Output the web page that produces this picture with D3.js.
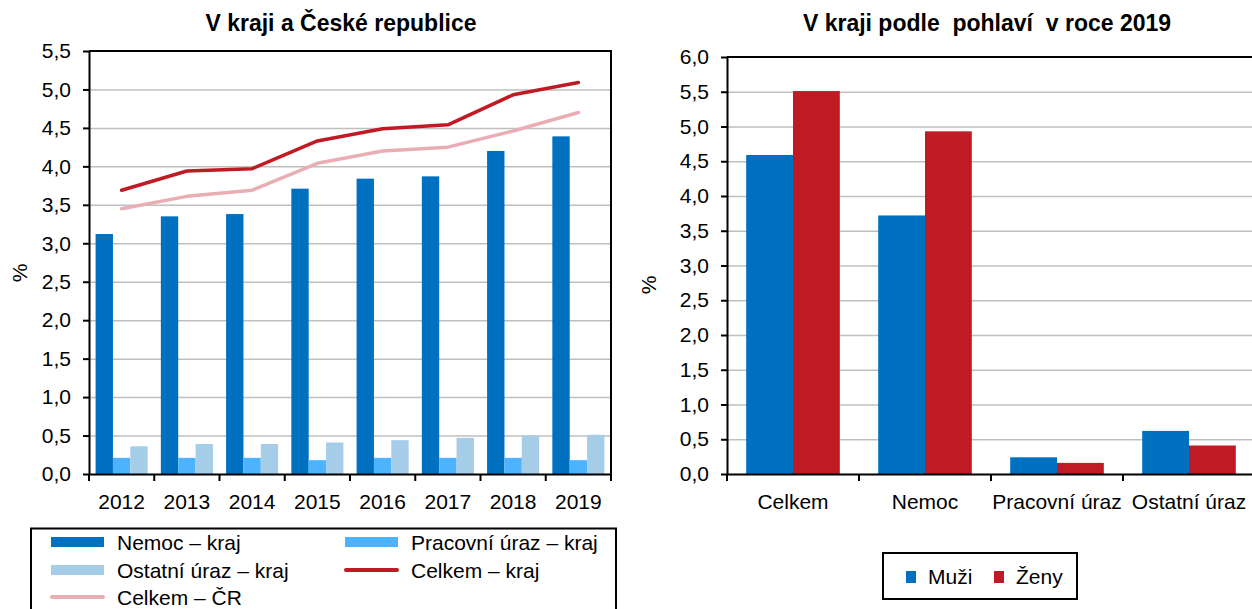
<!DOCTYPE html>
<html>
<head>
<meta charset="utf-8">
<title>Pracovní neschopnost</title>
<style>
  body { margin: 0; background: #fff; }
  svg { display: block; font-family: "Liberation Sans", Arial, sans-serif; }
  .grid line { stroke: #bfbfbf; stroke-width: 1.5; }
  .grid .domain { display: none; }
</style>
</head>
<body>
<div id="chart"></div>
<script src="https://d3js.org/d3.v7.min.js"></script>
<script>
// left chart data
const years = ['2012', '2013', '2014', '2015', '2016', '2017', '2018', '2019'];
const nemoc = [3.12, 3.35, 3.38, 3.71, 3.84, 3.87, 4.20, 4.39];
const pracovni = [0.21, 0.21, 0.21, 0.18, 0.21, 0.21, 0.21, 0.18];
const ostatni = [0.36, 0.39, 0.39, 0.41, 0.44, 0.47, 0.50, 0.51];
const celkemKraj = [3.69, 3.94, 3.97, 4.33, 4.49, 4.54, 4.93, 5.09];
const celkemCR = [3.45, 3.61, 3.69, 4.04, 4.20, 4.25, 4.46, 4.70];
const leftTicks = [0, 0.5, 1, 1.5, 2, 2.5, 3, 3.5, 4, 4.5, 5, 5.5];

// right chart data
const categories = ['Celkem', 'Nemoc', 'Pracovní úraz', 'Ostatní úraz'];
const muzi = [4.59, 3.72, 0.24, 0.62];
const zeny = [5.51, 4.93, 0.16, 0.41];
const rightTicks = [0, 0.5, 1, 1.5, 2, 2.5, 3, 3.5, 4, 4.5, 5, 5.5, 6];

const cz = d3.formatLocale({decimal: ',', thousands: ' ', grouping: [3], currency: ['', ' Kč']});
const fmt = cz.format('.1f');

const W = 1252, H = 609;
const svg = d3.select('#chart').append('svg')
  .attr('width', W).attr('height', H);

const blue = '#0070c0', lightBlue = '#4db3ff', paleBlue = '#a6cde8';
const red = '#c01a24', pink = '#e8aeb3';

// ---------- left chart ----------
const L = {left: 89, right: 611, top: 51, bottom: 474};

const x0 = d3.scaleBand().domain(years).range([L.left, L.right]);
const x1 = d3.scaleBand().domain(['nemoc', 'pracovni', 'ostatni'])
  .range([0, x0.bandwidth()]).paddingOuter(0.38);
const yL = d3.scaleLinear().domain([0, 5.5]).range([L.bottom, L.top]);

svg.append('g').attr('class', 'grid')
  .attr('transform', `translate(${L.left},0)`)
  .call(d3.axisLeft(yL).tickValues(leftTicks.slice(1, -1)).tickSize(-(L.right - L.left)).tickFormat(''));

const barSeries = [
  {key: 'nemoc', values: nemoc, color: blue},
  {key: 'pracovni', values: pracovni, color: lightBlue},
  {key: 'ostatni', values: ostatni, color: paleBlue}
];
barSeries.forEach(s => {
  svg.append('g').attr('fill', s.color)
    .selectAll('rect')
    .data(years)
    .join('rect')
      .attr('x', (d, i) => x0(d) + x1(s.key))
      .attr('y', (d, i) => yL(s.values[i]))
      .attr('width', x1.bandwidth())
      .attr('height', (d, i) => yL(0) - yL(s.values[i]));
});

const line = d3.line()
  .x((d, i) => x0(years[i]) + x0.bandwidth() / 2)
  .y(d => yL(d));

svg.append('path').datum(celkemCR)
  .attr('fill', 'none').attr('stroke', pink).attr('stroke-width', 3.5)
  .attr('stroke-linejoin', 'round').attr('stroke-linecap', 'round')
  .attr('d', line);
svg.append('path').datum(celkemKraj)
  .attr('fill', 'none').attr('stroke', red).attr('stroke-width', 3.5)
  .attr('stroke-linejoin', 'round').attr('stroke-linecap', 'round')
  .attr('d', line);

// border of plot area
svg.append('path')
  .attr('d', `M${L.left},${L.top}H${L.right}V${L.bottom}`)
  .attr('fill', 'none').attr('stroke', '#000').attr('stroke-width', 2);

function styleAxis(g) {
  g.select('.domain').attr('stroke', '#000').attr('stroke-width', 2);
  g.selectAll('.tick line').attr('stroke', '#000').attr('stroke-width', 2);
  g.selectAll('.tick text').attr('fill', '#000').attr('font-size', 21)
    .attr('font-family', '"Liberation Sans", Arial, sans-serif');
}

svg.append('g')
  .attr('transform', `translate(${L.left},0)`)
  .call(d3.axisLeft(yL).tickValues(leftTicks).tickFormat(fmt).tickSize(6).tickPadding(12).tickSizeOuter(0))
  .call(styleAxis);

svg.append('g')
  .attr('transform', `translate(0,${L.bottom})`)
  .call(d3.axisBottom(x0).tickSize(0).tickPadding(20).tickSizeOuter(0))
  .call(styleAxis);

// tick marks between categories
svg.append('g').selectAll('line')
  .data(years.map(d => x0(d)).concat([x0.range()[1]]))
  .join('line')
    .attr('x1', d => d).attr('x2', d => d)
    .attr('y1', L.bottom).attr('y2', L.bottom + 7)
    .attr('stroke', '#000').attr('stroke-width', 2);

svg.append('text')
  .attr('x', 341).attr('y', 31)
  .attr('text-anchor', 'middle')
  .attr('font-size', 23).attr('font-weight', 'bold')
  .text('V kraji a České republice');

svg.append('text')
  .attr('transform', 'translate(27,273) rotate(-90)')
  .attr('text-anchor', 'middle')
  .attr('font-size', 21)
  .text('%');

// left legend
svg.append('rect')
  .attr('x', 31).attr('y', 528.5).attr('width', 585).attr('height', 90)
  .attr('fill', '#fff').attr('stroke', '#000').attr('stroke-width', 2);

const legendLeft = [
  {label: 'Nemoc – kraj', color: blue, type: 'bar', col: 0, row: 0},
  {label: 'Pracovní úraz – kraj', color: lightBlue, type: 'bar', col: 1, row: 0},
  {label: 'Ostatní úraz – kraj', color: paleBlue, type: 'bar', col: 0, row: 1},
  {label: 'Celkem – kraj', color: red, type: 'line', col: 1, row: 1},
  {label: 'Celkem – ČR', color: pink, type: 'line', col: 0, row: 2}
];
const legCols = [51, 345];
const legRows = [542, 570, 597];
legendLeft.forEach(d => {
  const lx = legCols[d.col], ly = legRows[d.row];
  if (d.type === 'bar') {
    svg.append('rect').attr('x', lx).attr('y', ly - 5).attr('width', 53).attr('height', 10)
      .attr('fill', d.color);
  } else {
    svg.append('line').attr('x1', lx + 1).attr('x2', lx + 52).attr('y1', ly).attr('y2', ly)
      .attr('stroke', d.color).attr('stroke-width', 4).attr('stroke-linecap', 'round');
  }
  svg.append('text').attr('x', lx + 66).attr('y', ly + 7.5)
    .attr('font-size', 21).text(d.label);
});

// ---------- right chart ----------
const R = {left: 727, right: 1255, top: 57, bottom: 474};

const c0 = d3.scaleBand().domain(categories).range([R.left, R.right]);
const c1 = d3.scaleBand().domain(['muzi', 'zeny'])
  .range([0, c0.bandwidth()]).paddingOuter(0.41);
const yR = d3.scaleLinear().domain([0, 6]).range([R.bottom, R.top]);

svg.append('g').attr('class', 'grid')
  .attr('transform', `translate(${R.left},0)`)
  .call(d3.axisLeft(yR).tickValues(rightTicks.slice(1, -1)).tickSize(-(R.right - R.left)).tickFormat(''));

[{key: 'muzi', values: muzi, color: blue}, {key: 'zeny', values: zeny, color: red}].forEach(s => {
  svg.append('g').attr('fill', s.color)
    .selectAll('rect')
    .data(categories)
    .join('rect')
      .attr('x', (d, i) => c0(d) + c1(s.key))
      .attr('y', (d, i) => yR(s.values[i]))
      .attr('width', c1.bandwidth())
      .attr('height', (d, i) => yR(0) - yR(s.values[i]));
});

svg.append('line')
  .attr('x1', R.left).attr('x2', R.right).attr('y1', R.top).attr('y2', R.top)
  .attr('stroke', '#000').attr('stroke-width', 2);

svg.append('g')
  .attr('transform', `translate(${R.left},0)`)
  .call(d3.axisLeft(yR).tickValues(rightTicks).tickFormat(fmt).tickSize(6).tickPadding(12).tickSizeOuter(0))
  .call(styleAxis);

svg.append('g')
  .attr('transform', `translate(0,${R.bottom})`)
  .call(d3.axisBottom(c0).tickSize(0).tickPadding(20).tickSizeOuter(0))
  .call(styleAxis);

svg.append('g').selectAll('line')
  .data(categories.map(d => c0(d)))
  .join('line')
    .attr('x1', d => d).attr('x2', d => d)
    .attr('y1', R.bottom).attr('y2', R.bottom + 7)
    .attr('stroke', '#000').attr('stroke-width', 2);

svg.append('text')
  .attr('x', 987).attr('y', 31)
  .attr('text-anchor', 'middle')
  .attr('font-size', 23).attr('font-weight', 'bold')
  .attr('xml:space', 'preserve').style('white-space', 'pre')
  .text('V kraji podle  pohlaví  v roce 2019');

svg.append('text')
  .attr('transform', 'translate(656,285) rotate(-90)')
  .attr('text-anchor', 'middle')
  .attr('font-size', 21)
  .text('%');

// right legend
svg.append('rect')
  .attr('x', 883).attr('y', 553).attr('width', 194).attr('height', 46)
  .attr('fill', '#fff').attr('stroke', '#000').attr('stroke-width', 2);

const legendRight = [
  {label: 'Muži', color: blue, x: 906},
  {label: 'Ženy', color: red, x: 994}
];
legendRight.forEach(d => {
  svg.append('rect').attr('x', d.x).attr('y', 571).attr('width', 10).attr('height', 12)
    .attr('fill', d.color);
  svg.append('text').attr('x', d.x + 22).attr('y', 584)
    .attr('font-size', 21).text(d.label);
});
</script>
</body>
</html>
